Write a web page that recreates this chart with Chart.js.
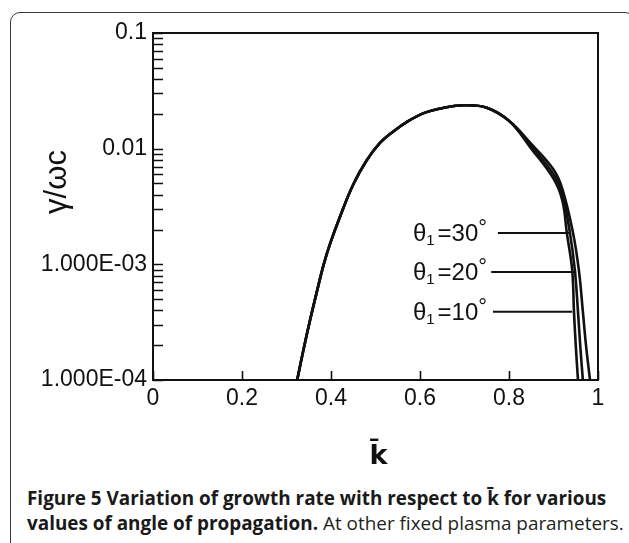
<!DOCTYPE html>
<html>
<head>
<meta charset="utf-8">
<script src="https://cdn.jsdelivr.net/npm/chart.js@4.4.1/dist/chart.umd.min.js"></script>
<style>
  html, body { margin: 0; padding: 0; background: #fff; }
  body { width: 629px; height: 543px; position: relative; overflow: hidden; }
  #frame {
    position: absolute; left: 10px; top: 12px; width: 625px; height: 560px;
    border: 1.5px solid #3a3a3a; border-radius: 10px; box-sizing: border-box;
  }
  #chart { position: absolute; left: 0; top: 0; }
  .cap {
    position: absolute; left: 27px; font-family: "Open Sans", sans-serif;
    font-size: 18.9px; color: #231f20; white-space: nowrap;
  }
  .cap b { font-weight: 700; color: #1a1a1a; }
  #cap1 { top: 485px; }
  #cap2 { top: 510px; }
</style>
</head>
<body>
<div id="frame"></div>
<canvas id="chart" width="629" height="480"></canvas>
<div class="cap" id="cap1"><b>Figure 5 Variation of growth rate with respect to k&#772; for various</b></div>
<div class="cap" id="cap2"><b>values of angle of propagation.</b> At other fixed plasma parameters.</div>
<script>
  'use strict'

  // shared part of the three curves (k bar, gamma / omega_c)
  var kShared = [0.324, 0.338, 0.353, 0.368, 0.383, 0.398, 0.420, 0.45, 0.48, 0.51, 0.54, 0.57, 0.61, 0.65, 0.70, 0.75, 0.80]
  var gShared = [1.0e-4, 1.82e-4, 3.3e-4, 5.75e-4, 9.8e-4, 1.51e-3, 2.57e-3, 4.9e-3, 7.9e-3, 0.0112, 0.0141, 0.0170, 0.0204, 0.0224, 0.0237, 0.0226, 0.0174]

  // tails near cutoff, one per angle
  var kTail10 = [0.85, 0.90, 0.92, 0.930, 0.942, 0.946, 0.950, 0.955]
  var gTail10 = [0.0100, 0.0055, 0.00355, 0.00186, 0.00089, 0.00039, 0.0002, 0.0001]
  var kTail20 = [0.85, 0.90, 0.92, 0.937, 0.948, 0.955, 0.960, 0.966]
  var gTail20 = [0.0105, 0.0060, 0.0040, 0.00186, 0.00089, 0.00039, 0.0002, 0.0001]
  var kTail30 = [0.85, 0.90, 0.92, 0.944, 0.957, 0.966, 0.973, 0.982]
  var gTail30 = [0.0110, 0.0066, 0.00447, 0.00186, 0.00089, 0.00039, 0.0002, 0.0001]

  // angle labels with their pointer lines
  var angles = [30, 20, 10]
  var pointerY = [1.87e-3, 8.6e-4, 3.9e-4]
  var pointerFrom = [0.775, 0.760, 0.764]
  var pointerTo = [0.937, 0.951, 0.942]
  var labelK = 0.584

  // axes
  var xTickValues = [0, 0.2, 0.4, 0.6, 0.8, 1]
  var xTickLabels = ['0', '0.2', '0.4', '0.6', '0.8', '1']
  var yDecades = [1e-4, 1e-3, 1e-2, 1e-1]
  var yTickLabels = ['1.000E-04', '1.000E-03', '0.01', '0.1']
  var yMultiples = [1, 2, 3, 4, 5, 6, 7, 8, 9]
  var xTitle = 'k\u0304'
  var yTitle = '\u03b3/\u03c9c'

  var TICK_FONT = { family: 'Liberation Sans', size: 23 }

  function toPoints(ks, gs) {
    return ks.map(function (k, i) { return { x: k, y: gs[i] } })
  }

  var yTickValues = []
  yDecades.forEach(function (d, i) {
    if (i === yDecades.length - 1) { yTickValues.push(d); return }
    yMultiples.forEach(function (m) { yTickValues.push(d * m) })
  })

  var curveStyle = {
    borderColor: '#111',
    borderWidth: 2.6,
    pointRadius: 0,
    fill: false,
    tension: 0.4
  }

  var datasets = []
  ;[[kTail10, gTail10], [kTail20, gTail20], [kTail30, gTail30]].forEach(function (t, i) {
    datasets.push(Object.assign({
      label: 'theta1 = ' + [10, 20, 30][i],
      data: toPoints(kShared.concat(t[0]), gShared.concat(t[1]))
    }, curveStyle))
  })
  angles.forEach(function (a, i) {
    datasets.push({
      label: 'pointer ' + a,
      data: [{ x: pointerFrom[i], y: pointerY[i] }, { x: pointerTo[i], y: pointerY[i] }],
      borderColor: '#111',
      borderWidth: 2,
      pointRadius: 0
    })
  })

  // plot frame, inward tick marks, angle labels and axis titles
  var decorPlugin = {
    id: 'decor',
    afterDraw: function (chart) {
      var ctx = chart.ctx
      var area = chart.chartArea
      var xs = chart.scales.x
      var ys = chart.scales.y
      ctx.save()
      ctx.strokeStyle = '#111'
      ctx.lineWidth = 2
      ctx.strokeRect(area.left, area.top, area.right - area.left, area.bottom - area.top)

      ctx.lineWidth = 1.6
      ctx.beginPath()
      yTickValues.forEach(function (v) {
        var py = Math.round(ys.getPixelForValue(v)) + 0.5
        ctx.moveTo(area.left, py)
        ctx.lineTo(area.left + 10, py)
      })
      xTickValues.forEach(function (v) {
        var px = Math.round(xs.getPixelForValue(v)) + 0.5
        ctx.moveTo(px, area.bottom)
        ctx.lineTo(px, area.bottom - 9)
      })
      ctx.stroke()

      // angle labels: theta, subscript 1, =NN, degree sign
      ctx.fillStyle = '#111'
      ctx.textBaseline = 'alphabetic'
      angles.forEach(function (a, i) {
        var x = xs.getPixelForValue(labelK)
        var base = ys.getPixelForValue(pointerY[i]) + 8
        ctx.font = '24px "Liberation Sans"'
        ctx.fillText('\u03b8', x, base)
        x += ctx.measureText('\u03b8').width
        ctx.font = '15px "Liberation Sans"'
        ctx.fillText('1', x, base + 4)
        x += ctx.measureText('1').width + 3
        ctx.font = '24px "Liberation Sans"'
        ctx.fillText('=' + a, x, base)
        x += ctx.measureText('=' + a).width
        ctx.font = '22px "Liberation Sans"'
        ctx.fillText('\u00b0', x, base - 6)
      })

      // axis titles
      ctx.textAlign = 'center'
      ctx.textBaseline = 'middle'
      ctx.font = 'bold 27px "DejaVu Sans"'
      ctx.fillText(xTitle, (area.left + area.right) / 2 + 3, 457)
      ctx.translate(57, 182)
      ctx.rotate(-Math.PI / 2)
      ctx.font = '31px "Liberation Sans"'
      ctx.fillText(yTitle, 0, 0)
      ctx.restore()
    }
  }

  var chart = new Chart(document.getElementById('chart').getContext('2d'), {
    type: 'line',
    data: { datasets: datasets },
    options: {
      responsive: false,
      animation: false,
      devicePixelRatio: 1,
      layout: { padding: { top: 33, right: 31, left: 0, bottom: 0 } },
      plugins: { legend: { display: false }, tooltip: { enabled: false } },
      scales: {
        x: {
          type: 'linear',
          min: 0,
          max: 1,
          grid: { display: false, drawTicks: false },
          border: { display: false },
          afterBuildTicks: function (scale) {
            scale.ticks = xTickValues.map(function (v) { return { value: v } })
          },
          ticks: {
            color: '#111',
            font: TICK_FONT,
            padding: 5,
            maxRotation: 0,
            autoSkip: false,
            callback: function (value, index) { return xTickLabels[index] }
          },
          afterFit: function (scale) { scale.height = 100 }
        },
        y: {
          type: 'logarithmic',
          min: 1e-4,
          max: 0.1,
          grid: { display: false, drawTicks: false },
          border: { display: false },
          afterBuildTicks: function (scale) {
            scale.ticks = yTickValues.map(function (v) { return { value: v } })
          },
          ticks: {
            color: '#111',
            font: TICK_FONT,
            padding: 6,
            autoSkip: false,
            callback: function (value) {
              var i = yDecades.findIndex(function (d) { return Math.abs(d - value) < d * 1e-6 })
              return i >= 0 ? yTickLabels[i] : ''
            }
          },
          afterFit: function (scale) { scale.width = 153 }
        }
      }
    },
    plugins: [decorPlugin]
  })
</script>
</body>
</html>
